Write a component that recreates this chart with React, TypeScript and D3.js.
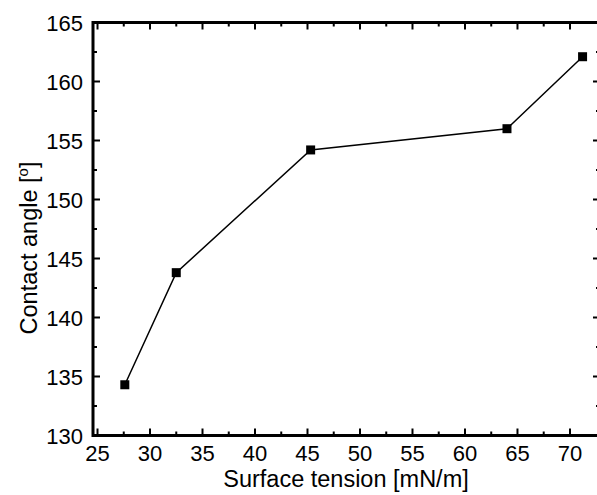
import { useEffect, useRef } from "react"
import * as d3 from "d3"

// surface tension [mN/m] vs contact angle [deg]
const surfaceTension = [27.6, 32.5, 45.3, 64.0, 71.2]
const contactAngle = [134.3, 143.8, 154.2, 156.0, 162.1]

const xTicks = [25, 30, 35, 40, 45, 50, 55, 60, 65, 70]
const yTicks = [130, 135, 140, 145, 150, 155, 160, 165]

export default function App() {
  const chartRef = useRef<SVGSVGElement | null>(null)

  useEffect(() => {
    if (!chartRef.current) return
    const svg = d3.select(chartRef.current)
    svg.selectAll("*").remove()

    const width = 597
    const height = 495
    const left = 93
    const right = 600
    const top = 22.5
    const bottom = 435.5
    const font = "'Liberation Sans', Arial, sans-serif"

    const x = d3.scaleLinear().domain([24.57, 72.86]).range([left, right])
    const y = d3.scaleLinear().domain([130, 165]).range([bottom, top])

    const xMinor = d3.range(27.5, 72.5, 5)
    const yMinor = d3.range(132.5, 165, 5)

    svg.attr("width", width).attr("height", height)

    const g = svg.append("g")

    // data line + markers
    const data = surfaceTension.map((v, i) => [v, contactAngle[i]] as [number, number])
    g.append("path")
      .datum(data)
      .attr("fill", "none")
      .attr("stroke", "#000")
      .attr("stroke-width", 1.5)
      .attr("d", d3.line<[number, number]>().x((d) => x(d[0])).y((d) => y(d[1])))

    g.selectAll("rect.pt")
      .data(data)
      .enter()
      .append("rect")
      .attr("class", "pt")
      .attr("x", (d) => x(d[0]) - 4.5)
      .attr("y", (d) => y(d[1]) - 4.5)
      .attr("width", 9)
      .attr("height", 9)
      .attr("fill", "#000")

    // ticks, all pointing inward
    const tickLines = g.append("g").attr("stroke", "#000").attr("stroke-width", 2)
    const addXTicks = (vals: number[], len: number) => {
      vals.forEach((v) => {
        tickLines.append("line").attr("x1", x(v)).attr("x2", x(v)).attr("y1", bottom).attr("y2", bottom - len)
        tickLines.append("line").attr("x1", x(v)).attr("x2", x(v)).attr("y1", top).attr("y2", top + len)
      })
    }
    const addYTicks = (vals: number[], len: number) => {
      vals.forEach((v) => {
        tickLines.append("line").attr("x1", left).attr("x2", left + len).attr("y1", y(v)).attr("y2", y(v))
        tickLines.append("line").attr("x1", right).attr("x2", right - len).attr("y1", y(v)).attr("y2", y(v))
      })
    }
    addXTicks(xTicks, 7)
    addXTicks(xMinor, 4)
    addYTicks(yTicks, 7)
    addYTicks(yMinor, 4)

    // frame
    g.append("rect")
      .attr("x", left)
      .attr("y", top)
      .attr("width", right - left)
      .attr("height", bottom - top)
      .attr("fill", "none")
      .attr("stroke", "#000")
      .attr("stroke-width", 3)

    // tick labels
    g.selectAll("text.xt")
      .data(xTicks)
      .enter()
      .append("text")
      .attr("class", "xt")
      .attr("x", (d) => x(d))
      .attr("y", 460.5)
      .attr("text-anchor", "middle")
      .attr("font-family", font)
      .attr("font-size", 22)
      .text((d) => d)

    g.selectAll("text.yt")
      .data(yTicks)
      .enter()
      .append("text")
      .attr("class", "yt")
      .attr("x", 83)
      .attr("y", (d) => y(d) + 8)
      .attr("text-anchor", "end")
      .attr("font-family", font)
      .attr("font-size", 22)
      .text((d) => d)

    // axis titles
    g.append("text")
      .attr("x", 346)
      .attr("y", 486.5)
      .attr("text-anchor", "middle")
      .attr("font-family", font)
      .attr("font-size", 23.5)
      .text("Surface tension [mN/m]")

    const yTitle = g.append("text")
      .attr("transform", `translate(37, 248) rotate(-90)`)
      .attr("text-anchor", "middle")
      .attr("font-family", font)
      .attr("font-size", 23.5)
    yTitle.append("tspan").text("Contact angle [")
    yTitle.append("tspan").attr("font-size", 15).attr("dy", -9).text("o")
    yTitle.append("tspan").attr("dy", 9).text("]")
  }, [])

  return (
    <svg
      ref={chartRef}
      style={{ position: "absolute", left: 0, top: 0, display: "block", background: "#fff" }}
    />
  )
}
